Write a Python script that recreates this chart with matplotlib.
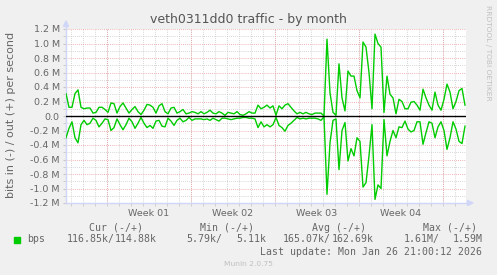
import numpy as np
import matplotlib
matplotlib.use('Agg')
import matplotlib.pyplot as plt
from matplotlib.patches import Polygon

# Tráfico de la interfaz, en Mbit/s, una muestra cada 6 horas
out_bps = [0.31, 0.12, 0.12, 0.31, 0.36, 0.12, 0.10, 0.11, 0.11, 0.04,
           0.05, 0.12, 0.12, 0.09, 0.05, 0.18, 0.17, 0.04, 0.13, 0.18,
           0.11, 0.04, 0.09, 0.13, 0.06, 0.02, 0.08, 0.16, 0.15, 0.12,
           0.04, 0.14, 0.17, 0.06, 0.03, 0.11, 0.12, 0.04, 0.06, 0.09,
           0.03, 0.04, 0.06, 0.05, 0.03, 0.06, 0.03, 0.05, 0.08, 0.04,
           0.03, 0.06, 0.04, 0.01, 0.05, 0.04, 0.03, 0.06, 0.02, 0.01,
           0.03, 0.06, 0.04, 0.04, 0.15, 0.10, 0.12, 0.15, 0.11, 0.14,
           0.01, 0.14, 0.10, 0.15, 0.17, 0.12, 0.07, 0.03, 0.05, 0.03,
           0.05, 0.03, 0.02, 0.04, 0.04, 0.04, 0.00, 1.06, 0.32, 0.05,
           0.01, 0.72, 0.25, 0.07, 0.62, 0.55, 0.55, 0.35, 0.25, 1.02,
           0.95, 0.60, 0.10, 1.13, 1.00, 0.95, 0.05, 0.55, 0.30, 0.25,
           0.03, 0.23, 0.20, 0.10, 0.10, 0.19, 0.20, 0.15, 0.08, 0.37,
           0.25, 0.15, 0.08, 0.33, 0.15, 0.08, 0.23, 0.44, 0.33, 0.10,
           0.20, 0.35, 0.38, 0.15]
in_bps = [0.30, 0.17, 0.08, 0.30, 0.37, 0.12, 0.06, 0.12, 0.10, 0.03,
          0.06, 0.15, 0.10, 0.04, 0.05, 0.20, 0.16, 0.04, 0.12, 0.19,
          0.12, 0.03, 0.08, 0.17, 0.10, 0.02, 0.10, 0.16, 0.13, 0.17,
          0.07, 0.06, 0.14, 0.15, 0.03, 0.07, 0.13, 0.06, 0.03, 0.08,
          0.06, 0.02, 0.06, 0.04, 0.04, 0.04, 0.05, 0.04, 0.06, 0.03,
          0.05, 0.07, 0.03, 0.03, 0.04, 0.05, 0.04, 0.03, 0.03, 0.02,
          0.02, 0.03, 0.03, 0.04, 0.16, 0.08, 0.15, 0.12, 0.15, 0.12,
          0.02, 0.13, 0.16, 0.21, 0.13, 0.10, 0.06, 0.02, 0.04, 0.03,
          0.04, 0.03, 0.03, 0.03, 0.04, 0.06, 0.01, 1.08, 0.37, 0.06,
          0.04, 0.74, 0.20, 0.09, 0.62, 0.45, 0.55, 0.30, 0.35, 0.98,
          0.92, 0.55, 0.12, 1.15, 0.95, 1.00, 0.05, 0.55, 0.35, 0.20,
          0.30, 0.15, 0.16, 0.07, 0.18, 0.22, 0.20, 0.08, 0.08, 0.39,
          0.23, 0.08, 0.10, 0.30, 0.15, 0.08, 0.20, 0.46, 0.30, 0.08,
          0.18, 0.35, 0.38, 0.14]
week_labels = ['Week 01', 'Week 02', 'Week 03', 'Week 04']
y_ticks = [-1.2, -1.0, -0.8, -0.6, -0.4, -0.2, 0.0, 0.2, 0.4, 0.6, 0.8, 1.0, 1.2]
legend_heads = ['Cur (-/+)', 'Min (-/+)', 'Avg (-/+)', 'Max (-/+)']
legend_in = ['116.85k/', '5.79k/', '165.07k/', '1.61M/']
legend_out = ['114.88k', '5.11k', '162.69k', '1.59M']

W, H = 497, 275
GREEN = '#00CC00'
FONT = '#666666'
AXIS = '#CFD6F8'
span_days = 400 / 12.0
first_monday = 3.42  # primer lunes dentro del grafico (dias)


def fpos(x, y):
    return x / W, 1 - y / H


fig = plt.figure(figsize=(W / 100, H / 100), dpi=100, facecolor='#F0F0F0')
ax = fig.add_axes([66 / W, 1 - 203 / H, 400 / W, 174 / H])
ax.set_facecolor('white')

t = np.arange(len(out_bps)) * 0.25
ax.set_xlim(0, span_days)
ax.set_ylim(-1.2, 1.2)

# rejilla
dotted = (0, (1, 1.5))
for d in np.arange(first_monday % 1, span_days, 1.0):
    ax.axvline(d, color='#c8c8c8', lw=0.6, ls=dotted, zorder=0)
for y in np.arange(-1.1, 1.2, 0.2):
    ax.axhline(y, color='#c8c8c8', lw=0.6, ls=dotted, zorder=0)
week_starts = [first_monday + 7 * k for k in range(5)]
for w in week_starts:
    ax.axvline(w, color='#e79a9a', lw=0.6, ls=dotted, zorder=0.5)
for y in y_ticks:
    ax.axhline(y, color='#e79a9a', lw=0.6, ls=dotted, zorder=0.5)

ax.plot(t, out_bps, color=GREEN, lw=1.0, zorder=3)
ax.plot(t, -np.array(in_bps), color=GREEN, lw=1.0, zorder=3)
ax.axhline(0, color='black', lw=1.0, zorder=4)

for s in ['top', 'right']:
    ax.spines[s].set_visible(False)
for s in ['left', 'bottom']:
    ax.spines[s].set_color(AXIS)
    ax.spines[s].set_linewidth(1.0)

ax.set_yticks(y_ticks)
ax.set_yticklabels(['0.0' if v == 0 else '%.1f M' % v for v in y_ticks])
ax.set_yticks(np.arange(-1.1, 1.2, 0.2), minor=True)
ax.tick_params(axis='y', which='both', length=2, color='#c8c8c8',
               labelcolor=FONT, labelsize=6.8, pad=2.5)

ax.set_xticks([w + 3.5 for w in week_starts[:4]])
ax.set_xticklabels(week_labels)
ax.set_xticks(np.arange(first_monday % 1, span_days, 1.0), minor=True)
ax.tick_params(axis='x', which='major', length=0, labelcolor=FONT,
               labelsize=6.8, pad=4)
ax.tick_params(axis='x', which='minor', length=2, color='#c8c8c8')

# flechas de los ejes
fig.patches.append(Polygon([[63.5, H - 26.5], [68.5, H - 26.5], [66, H - 21]],
                           closed=True, transform=None, color=AXIS))
fig.patches.append(Polygon([[467.5, H - 200.5], [467.5, H - 205.5], [473, H - 203]],
                           closed=True, transform=None, color=AXIS))
ax.plot([0, 0], [1.2, 1.27], color=AXIS, lw=1.0, clip_on=False)

fig.text(*fpos(248, 19.5), 'veth0311dd0 traffic - by month', ha='center',
         va='center', fontsize=9, color='#555555')
fig.text(*fpos(11, 115), 'bits in (-) / out (+) per second', rotation=90,
         ha='center', va='center', fontsize=8, color=FONT)
fig.text(*fpos(488, 53), 'RRDTOOL / TOBI OETIKER', rotation=270,
         ha='center', va='center', fontsize=5.4, color='#c0c0c0')

mono = dict(family='DejaVu Sans Mono', fontsize=7.1, color=FONT, va='center')
head_x = [89, 200, 312, 423]
in_x = [66.7, 186.7, 283, 404]
out_x = [157, 266, 374, 483]
for h, x in zip(legend_heads, head_x):
    fig.text(*fpos(x, 227.7), h, ha='left', **mono)
for s, x in zip(legend_in, in_x):
    fig.text(*fpos(x, 239.3), s, ha='left', **mono)
for s, x in zip(legend_out, out_x):
    fig.text(*fpos(x, 239.3), s, ha='right', **mono)
fig.patches.append(Polygon([[14, H - 236.5], [20, H - 236.5], [20, H - 242.5], [14, H - 242.5]],
                           closed=True, transform=None, color=GREEN))
fig.text(*fpos(26.7, 239.3), 'bps', ha='left', **mono)
fig.text(*fpos(482.5, 251.7), 'Last update: Mon Jan 26 21:00:12 2026',
         ha='right', **mono)
fig.text(*fpos(248, 264), 'Munin 2.0.75', ha='center', va='center',
         fontsize=5.4, color='#c0c0c0')

fig.savefig('out.png', dpi=100, facecolor=fig.get_facecolor())
